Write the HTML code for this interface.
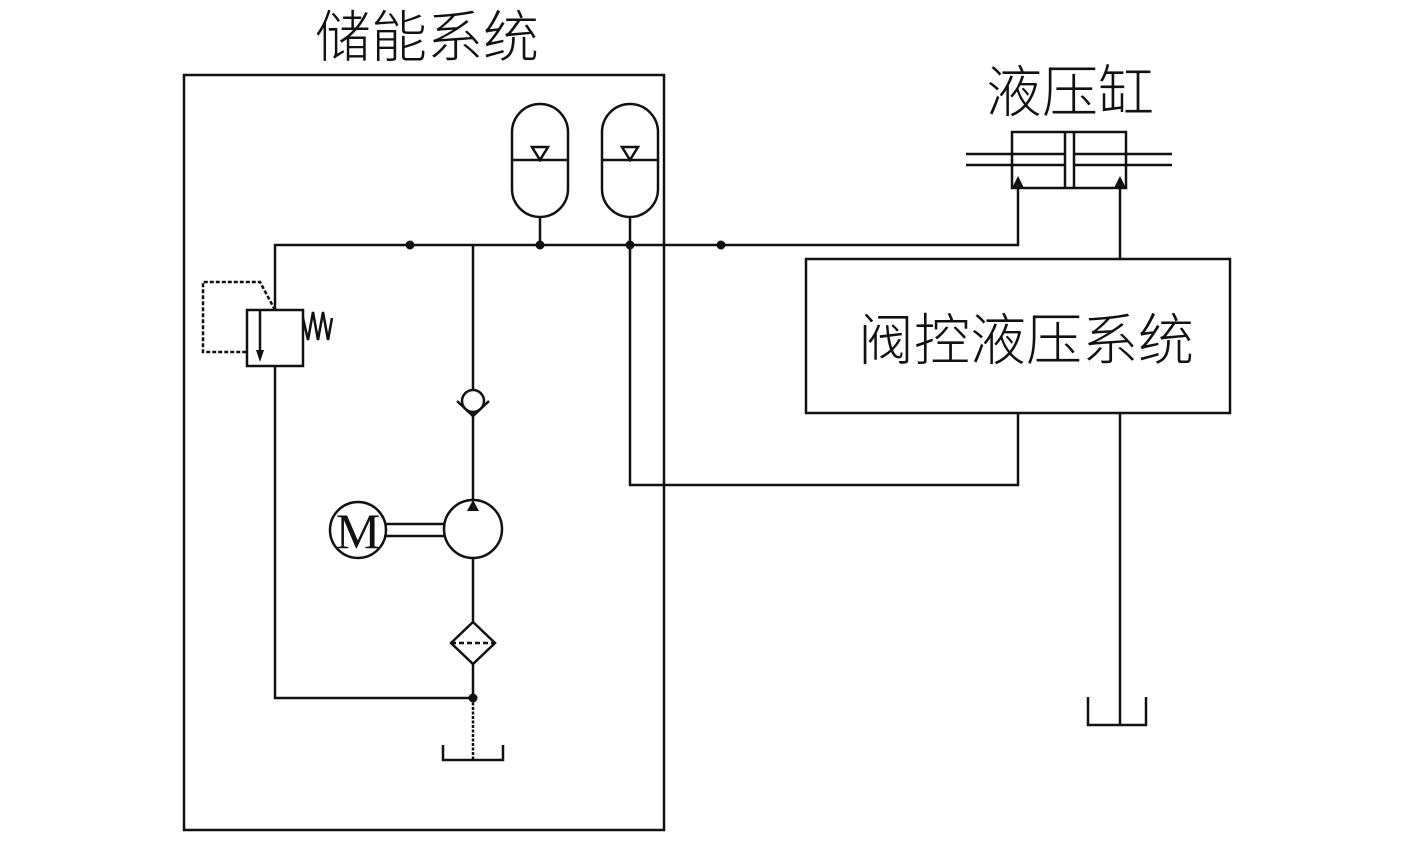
<!DOCTYPE html>
<html><head><meta charset="utf-8"><style>
html,body{margin:0;padding:0;background:#fff;}
svg{display:block}
text{font-family:"Liberation Serif","Noto Sans CJK SC",sans-serif;font-weight:300;fill:#111}
</style></head><body>
<svg width="1417" height="855" viewBox="0 0 1417 855" xmlns="http://www.w3.org/2000/svg">
<g stroke="#111" stroke-width="2.5" fill="none">
<rect x="184" y="75" width="480" height="755"/>
<!-- main line -->
<polyline points="275,310 275,245 1018,245 1018,186"/>
<!-- left return -->
<polyline points="275,366 275,698 473,698"/>
<!-- relief valve -->
<rect x="247" y="310" width="56" height="56"/>
<line x1="260" y1="310" x2="260" y2="352"/>
<polyline points="275,310 260,282 203,282 203,352 247,352" stroke-dasharray="4,2"/>
<polyline points="303,318 308,340 313,312 318,340 323,312 328,340 332,318"/>
<!-- center vertical -->
<line x1="473" y1="245" x2="473" y2="390"/>
<circle cx="473" cy="401" r="11"/>
<polyline points="457,401 473,416 489,401"/>
<line x1="473" y1="412" x2="473" y2="500"/>
<circle cx="473" cy="529" r="29"/>
<circle cx="358" cy="530" r="28"/>
<line x1="386" y1="524" x2="444" y2="524"/>
<line x1="386" y1="536" x2="444" y2="536"/>
<line x1="473" y1="558" x2="473" y2="622"/>
<polygon points="473,622 495,643 473,664 451,643"/>
<line x1="451" y1="643" x2="495" y2="643" stroke-dasharray="5,3"/>
<line x1="473" y1="664" x2="473" y2="698"/>
<line x1="473" y1="698" x2="473" y2="760" stroke-dasharray="3,1.5"/>
<polyline points="443,745 443,760 503,760 503,745"/>
<!-- accumulators -->
<rect x="512" y="104" width="56" height="113" rx="28" ry="28"/>
<line x1="512" y1="160" x2="568" y2="160"/>
<polygon points="532,147 548,147 540,160"/>
<line x1="540" y1="217" x2="540" y2="245"/>
<rect x="602" y="104" width="56" height="113" rx="28" ry="28"/>
<line x1="602" y1="160" x2="658" y2="160"/>
<polygon points="622,147 638,147 630,160"/>
<line x1="630" y1="217" x2="630" y2="245"/>
<!-- return to valve box -->
<polyline points="630,245 630,485 1018,485 1018,413"/>
<rect x="806" y="259" width="424" height="154"/>
<!-- cylinder -->
<rect x="1012" y="132" width="114" height="56"/>
<line x1="1065" y1="132" x2="1065" y2="188"/>
<line x1="1074" y1="132" x2="1074" y2="188"/>
<line x1="966" y1="154" x2="1065" y2="154"/>
<line x1="966" y1="165" x2="1065" y2="165"/>
<line x1="1074" y1="154" x2="1172" y2="154"/>
<line x1="1074" y1="165" x2="1172" y2="165"/>
<line x1="1120" y1="186" x2="1120" y2="259"/>
<line x1="1120" y1="413" x2="1120" y2="725"/>
<polyline points="1088,697 1088,725 1146,725 1146,697"/>
</g>
<g fill="#111">
<circle cx="410" cy="245" r="4.5"/>
<circle cx="540" cy="245" r="4.5"/>
<circle cx="630" cy="245" r="4.5"/>
<circle cx="721" cy="245" r="4.5"/>
<circle cx="473" cy="698" r="4.5"/>
<polygon points="473,500 467,511 479,511"/>
<polygon points="1018,176 1012,188 1024,188"/>
<polygon points="1120,176 1114,188 1126,188"/>
<polygon points="260,362 256,350 264,350"/>
</g>
<text x="358" y="548" font-size="50" text-anchor="middle" font-family="Liberation Serif,serif">M</text>
<text x="427" y="57" font-size="56" text-anchor="middle">储能系统</text>
<text x="1070" y="112" font-size="56" text-anchor="middle">液压缸</text>
<text x="1026" y="360" font-size="56" text-anchor="middle">阀控液压系统</text>
</svg>
</body></html>
